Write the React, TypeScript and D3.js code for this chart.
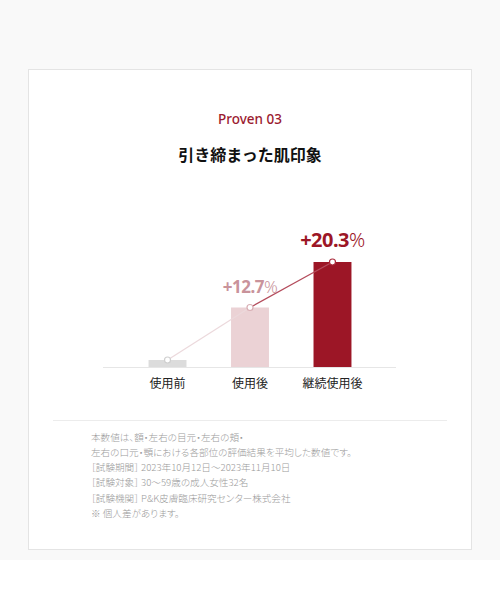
import React from "react";
import * as d3 from "d3";

const categories = ["使用前", "使用後", "継続使用後"];
const values = [4, 34, 60];
const changeNumbers = ["", "+12.7", "+20.3"];
const changeUnits = ["", "%", "%"];
const barColors = ["#dcdcdc", "#ebd2d5", "#9c1626"];
const dotColors = ["#cfcfcf", "#d8aeb4", "#a92a3b"];
const segmentColors = ["#ecd9dc", "#b44c5c"];
const labelColors = ["#999", "#c9939b", "#9c1626"];
const labelSizes = [16, 17, 20];
const notes = [
  "本数値は、額・左右の目元・左右の頬・",
  "左右の口元・顎における各部位の評価結果を平均した数値です。",
  "［試験期間］ 2023年10月12日〜2023年11月10日",
  "［試験対象］ 30〜59歳の成人女性32名",
  "［試験機関］ P&K皮膚臨床研究センター株式会社",
  "※ 個人差があります。",
];

const W = 500;
const H = 600;
const baseY = 367;

export default function App() {
  const x = d3
    .scaleBand<string>()
    .domain(categories)
    .range([104, 396])
    .paddingInner(0.54)
    .paddingOuter(0.54);
  const y = d3.scaleLinear().domain([0, 100]).range([baseY, baseY - 175]);

  const pts = categories.map((c, i) => [x(c)! + x.bandwidth() / 2, y(values[i])] as [number, number]);
  const lineGen = d3.line();

  const jp = "'Noto Sans CJK JP', 'Noto Sans', sans-serif";

  return (
    <svg
      width={W}
      height={H}
      viewBox={`0 0 ${W} ${H}`}
      style={{ position: "absolute", left: 0, top: 0, background: "#fff" }}
    >
      <rect x={0} y={0} width={W} height={560} fill="#f9f9f9" />
      <rect x={28.5} y={69.5} width={443} height={480} fill="#fff" stroke="#e4e4e4" strokeWidth={1} />

      <text
        x={250}
        y={124}
        textAnchor="middle"
        fontFamily="'Noto Sans', 'Open Sans', sans-serif"
        fontWeight={500}
        fontSize={13.5}
        fill="#9b1b30"
      >
        Proven 03
      </text>
      <text
        x={250}
        y={161}
        textAnchor="middle"
        fontFamily={jp}
        fontWeight={700}
        fontSize={16}
        fill="#111"
      >
        引き締まった肌印象
      </text>

      {/* baseline */}
      <line x1={103} x2={396} y1={baseY + 0.5} y2={baseY + 0.5} stroke="#e6e6e6" strokeWidth={1} />

      {categories.map((c, i) => (
        <rect
          key={c}
          x={x(c)}
          y={y(values[i])}
          width={x.bandwidth()}
          height={baseY - y(values[i])}
          fill={barColors[i]}
        />
      ))}

      {pts.slice(1).map((p, i) => (
        <path
          key={"seg" + i}
          d={lineGen([pts[i], p]) || ""}
          stroke={segmentColors[i]}
          strokeWidth={1.2}
          fill="none"
        />
      ))}

      {pts.map((p, i) => (
        <circle key={"dot" + i} cx={p[0]} cy={p[1]} r={3} fill="#fff" stroke={dotColors[i]} strokeWidth={1.2} />
      ))}

      {categories.map((c, i) =>
        changeNumbers[i] ? (
          <text
            key={"lab" + c}
            x={pts[i][0]}
            y={pts[i][1] - 15}
            textAnchor="middle"
            fontFamily="'Noto Sans', 'Open Sans', sans-serif"
            fontSize={labelSizes[i]}
            fill={labelColors[i]}
            letterSpacing={-0.5}
          >
            <tspan fontWeight={700}>{changeNumbers[i]}</tspan>
            <tspan fontWeight={300}>{changeUnits[i]}</tspan>
          </text>
        ) : null
      )}

      {categories.map((c) => (
        <text
          key={"cat" + c}
          x={x(c)! + x.bandwidth() / 2}
          y={387.5}
          textAnchor="middle"
          fontFamily={jp}
          fontSize={12}
          fill="#222"
        >
          {c}
        </text>
      ))}

      <line x1={53} x2={447} y1={420.5} y2={420.5} stroke="#ececec" strokeWidth={1} />

      {notes.map((n, i) => (
        <text
          key={"note" + i}
          x={91}
          y={437 + i * 15.2 + 3.7}
          fontFamily={jp}
          fontWeight={300}
          fontSize={9.6}
          fill="#9a9a9a"
          style={{ fontFeatureSettings: "'palt'", whiteSpace: "pre" }}
        >
          {n}
        </text>
      ))}
    </svg>
  );
}
